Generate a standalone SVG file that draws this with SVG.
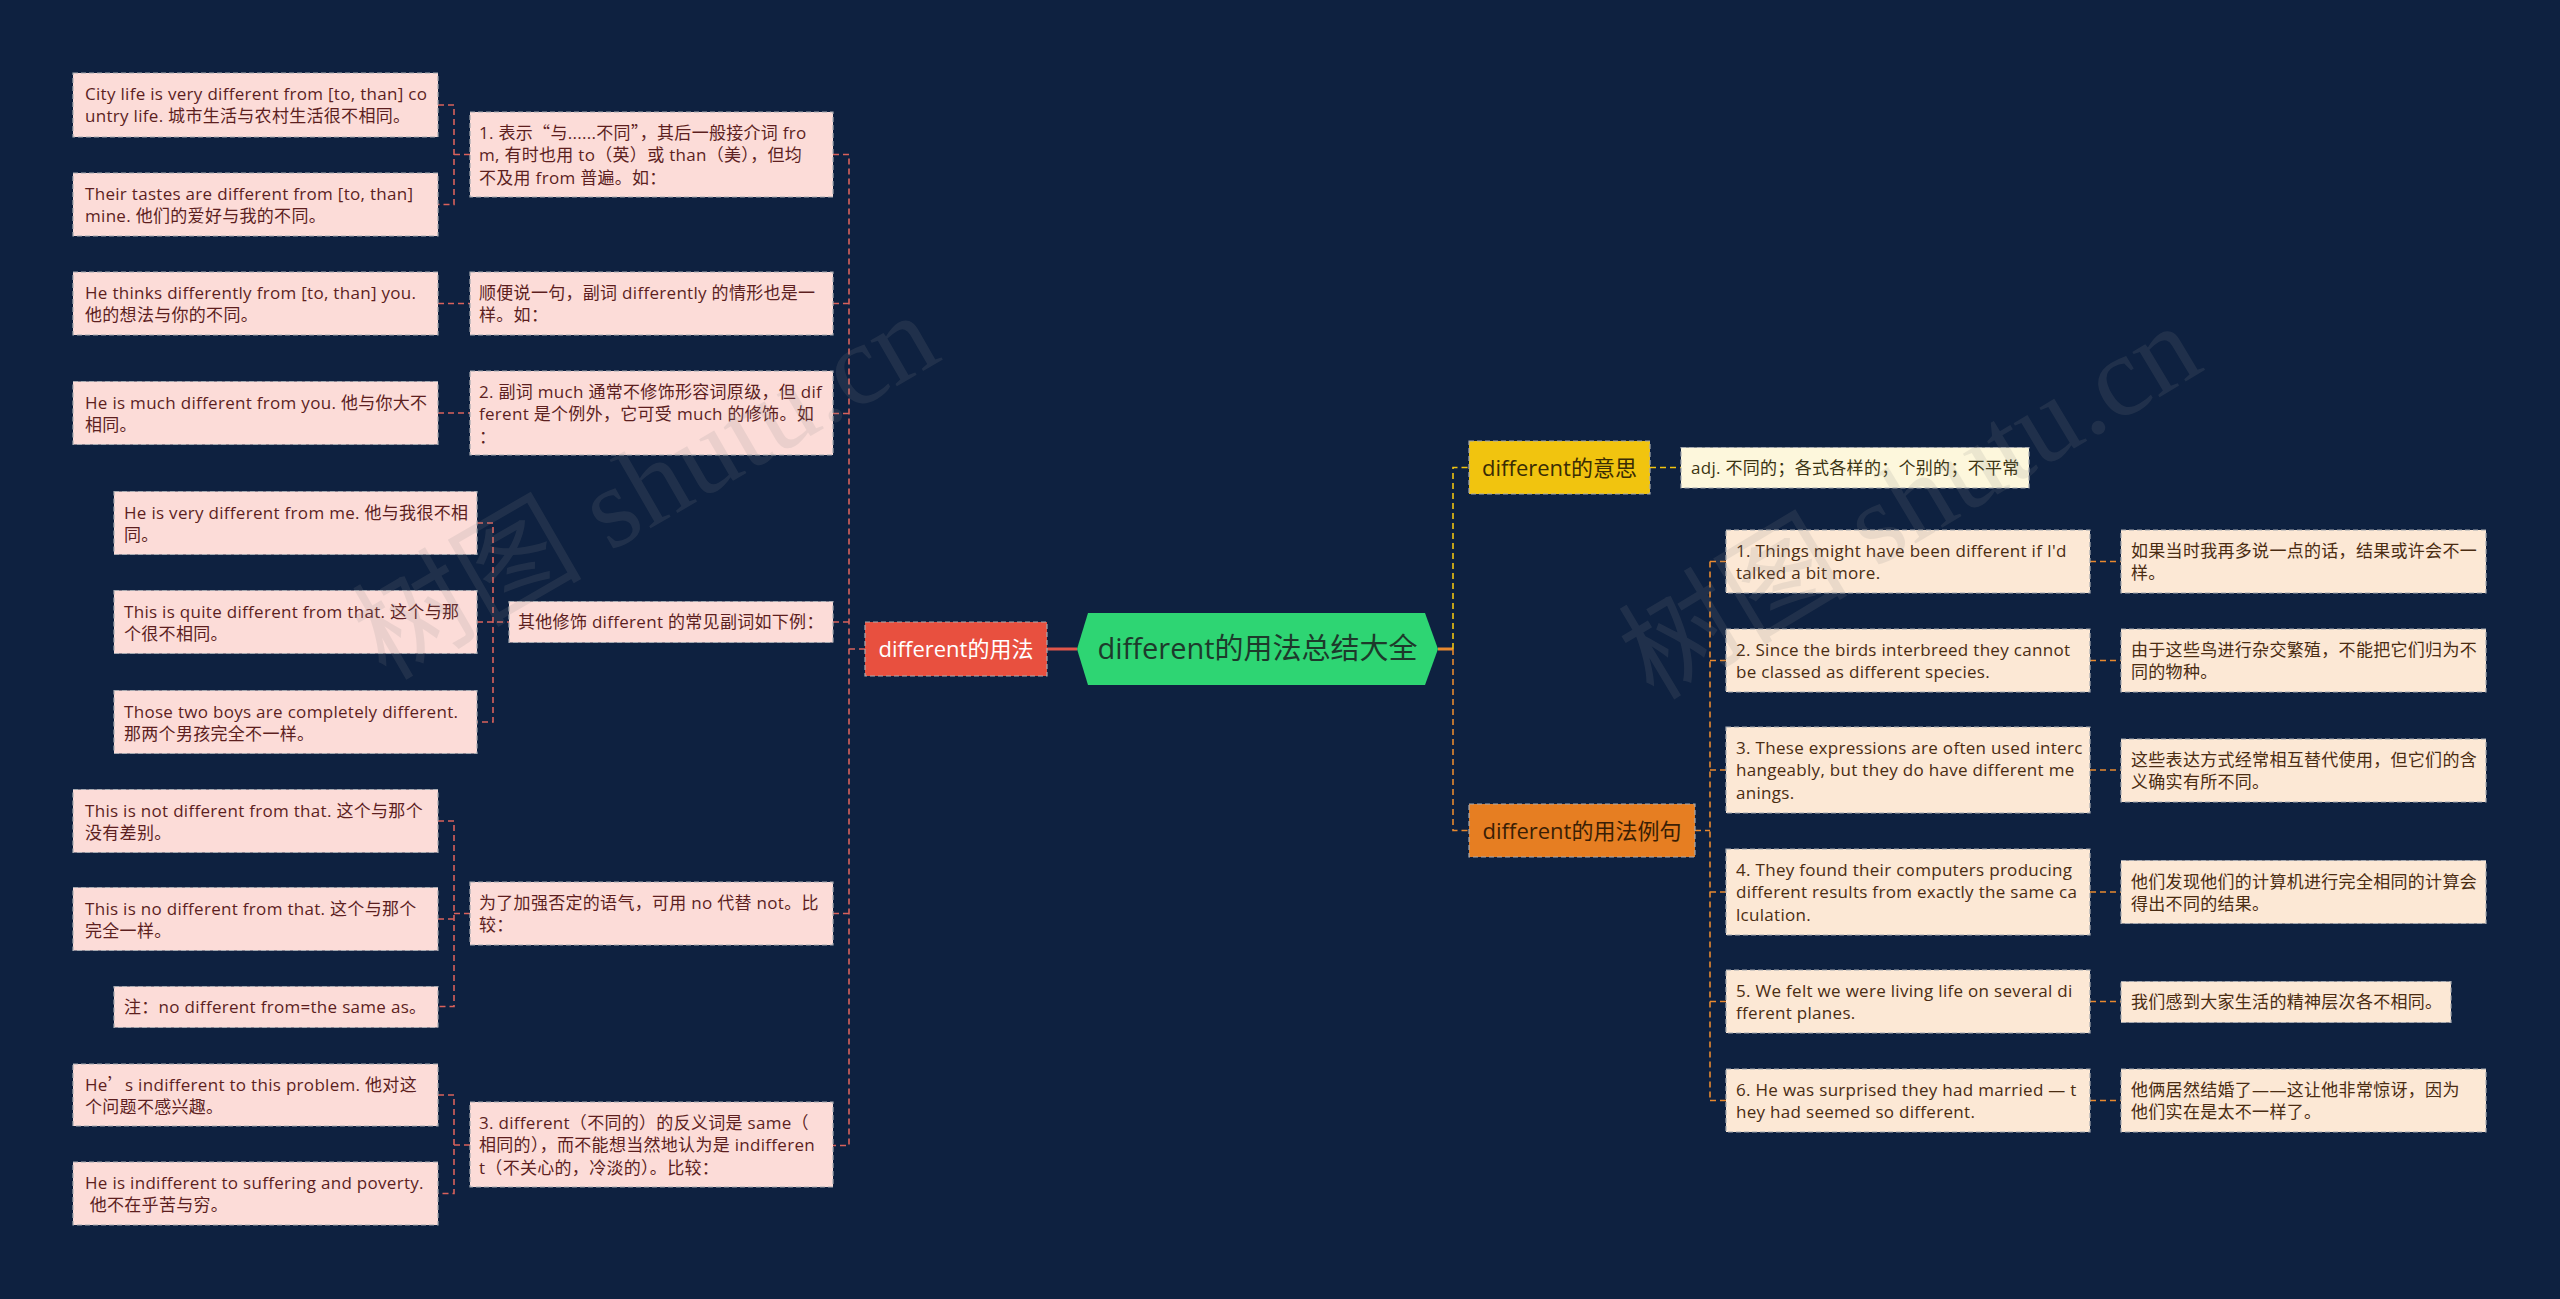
<svg xmlns="http://www.w3.org/2000/svg" width="2560" height="1299" viewBox="0 0 2560 1299">
<style>
text{font-family:"Open Sans","Noto Sans CJK SC",sans-serif;}
.t{font-size:17px;letter-spacing:0.3px;}
.tl{fill:#5c1f1f;}
.tr{fill:#4a2c12;}
.ta{fill:#3b3412;}
.cj{font-family:"Noto Sans CJK SC",sans-serif;}
.bx{stroke:#a6a9b0;stroke-width:1.2;stroke-dasharray:5 3;}
.pk{fill:#fcdcd8;}
.pe{fill:#fce8d5;}
.cr{fill:#fdf7dc;}
.cl{fill:none;stroke:#d9625b;stroke-width:1.6;stroke-dasharray:6 4;}
.cy{fill:none;stroke:#f1c40f;stroke-width:1.6;stroke-dasharray:6 4;}
.co{fill:none;stroke:#e8892f;stroke-width:1.6;stroke-dasharray:6 4;}
.h1{font-size:22px;text-anchor:middle;}
.wm{font-family:"Liberation Serif","Noto Sans CJK SC",serif;font-size:115px;fill:#8a8a8a;opacity:0.15;text-anchor:middle;}
</style>
<rect x="0" y="0" width="2560" height="1299" fill="#0e2140"/>

<g id="connectors">
<path class="cl" d="M438,105 H454 V204.5 H438 M454,154.5 H470"/>
<path class="cl" d="M438,303.5 H470"/>
<path class="cl" d="M438,413 H470"/>
<path class="cl" d="M477,523 H493 V722 H477 M477,622 H509"/>
<path class="cl" d="M438,821 H454 V1006.5 H438 M438,919 H454 M454,913.5 H470"/>
<path class="cl" d="M438,1095 H454 V1193.5 H438 M454,1145 H470"/>
<path class="cl" d="M833,154.5 H849 V1145.5 H833 M833,303.5 H849 M833,413.5 H849 M833,622 H849 M833,913.5 H849 M849,649 H865"/>
<path d="M1047,649 H1077" stroke="#e0564a" stroke-width="3" fill="none"/>
<path d="M1438,649 H1453" stroke="#e8892f" stroke-width="3" fill="none"/>
<path class="cy" d="M1453,649 V467.5 H1469 M1650,467.5 H1681"/>
<path class="co" d="M1453,649 V830.5 H1469 M1695,830.5 H1710 M1710,561.5 V1100.5 M1710,561.5 H1726 M1710,660.5 H1726 M1710,770 H1726 M1710,892 H1726 M1710,1001.5 H1726 M1710,1100.5 H1726"/>
<path class="co" d="M2090,561.5 H2121 M2090,660.5 H2121 M2090,770 H2121 M2090,892 H2121 M2090,1001.5 H2121 M2090,1100.5 H2121"/>
</g>

<g id="root">
<polygon points="1077,649 1088,613 1425,613 1438,649 1425,685 1088,685" fill="#2ed573"/>
<text x="1257.5" y="659" font-size="29" text-anchor="middle" fill="#1d3a2b">different的用法总结大全</text>
</g>

<g id="n-usage">
<rect x="865" y="622" width="182" height="54" fill="#e8503f" class="bx"/>
<text class="h1" x="956" y="657" fill="#ffffff">different的用法</text>
</g>

<g id="n-meaning">
<rect x="1469" y="441" width="181" height="53" fill="#f1c40f" class="bx"/>
<text class="h1" x="1559.5" y="475.5" fill="#3a2c05">different的意思</text>
</g>
<g id="n-adj">
<rect x="1681" y="447.5" width="348" height="40.5" class="bx cr"/>
<text class="t ta" x="1691" y="474">adj. 不同的；各式各样的；个别的；不平常</text>
</g>

<g id="n-examples">
<rect x="1469" y="804" width="226" height="53" fill="#e67e22" class="bx"/>
<text class="h1" x="1582" y="838.5" fill="#3a1e05">different的用法例句</text>
</g>

<!-- left middle column -->
<g id="m1">
<rect x="470" y="112" width="363" height="85" class="bx pk"/>
<text class="t tl" x="479" y="139"><tspan x="479">1. 表示<tspan class="cj">“</tspan>与......不同<tspan class="cj">”</tspan>，其后一般接介词 fro</tspan><tspan x="479" dy="22.4">m, 有时也用 to（英）或 than（美），但均</tspan><tspan x="479" dy="22.4">不及用 from 普遍。如：</tspan></text>
</g>
<g id="m2">
<rect x="470" y="272" width="363" height="63" class="bx pk"/>
<text class="t tl" x="479" y="299"><tspan x="479">顺便说一句，副词 differently 的情形也是一</tspan><tspan x="479" dy="22.4">样。如：</tspan></text>
</g>
<g id="m3">
<rect x="470" y="371" width="363" height="84" class="bx pk"/>
<text class="t tl" x="479" y="398"><tspan x="479">2. 副词 much 通常不修饰形容词原级，但 dif</tspan><tspan x="479" dy="22.4">ferent 是个例外，它可受 much 的修饰。如</tspan><tspan x="479" dy="22.4">：</tspan></text>
</g>
<g id="m4">
<rect x="509" y="601.5" width="324" height="41" class="bx pk"/>
<text class="t tl" x="518" y="628">其他修饰 different 的常见副词如下例：</text>
</g>
<g id="m5">
<rect x="470" y="882" width="363" height="63" class="bx pk"/>
<text class="t tl" x="479" y="909"><tspan x="479">为了加强否定的语气，可用 no 代替 not。比</tspan><tspan x="479" dy="22.4">较：</tspan></text>
</g>
<g id="m6">
<rect x="470" y="1102" width="363" height="85" class="bx pk"/>
<text class="t tl" x="479" y="1129"><tspan x="479">3. different（不同的）的反义词是 same（</tspan><tspan x="479" dy="22.4">相同的），而不能想当然地认为是 indifferen</tspan><tspan x="479" dy="22.4">t（不关心的，冷淡的）。比较：</tspan></text>
</g>

<!-- left leaves -->
<g id="l1">
<rect x="73" y="73" width="365" height="64" class="bx pk"/>
<text class="t tl" x="85" y="100"><tspan x="85">City life is very different from [to, than] co</tspan><tspan x="85" dy="22.4">untry life. 城市生活与农村生活很不相同。</tspan></text>
</g>
<g id="l2">
<rect x="73" y="173" width="365" height="63" class="bx pk"/>
<text class="t tl" x="85" y="200"><tspan x="85">Their tastes are different from [to, than]</tspan><tspan x="85" dy="22.4">mine. 他们的爱好与我的不同。</tspan></text>
</g>
<g id="l3">
<rect x="73" y="272" width="365" height="63" class="bx pk"/>
<text class="t tl" x="85" y="299"><tspan x="85">He thinks differently from [to, than] you.</tspan><tspan x="85" dy="22.4">他的想法与你的不同。</tspan></text>
</g>
<g id="l4">
<rect x="73" y="381.5" width="365" height="63" class="bx pk"/>
<text class="t tl" x="85" y="408.5"><tspan x="85">He is much different from you. 他与你大不</tspan><tspan x="85" dy="22.4">相同。</tspan></text>
</g>
<g id="l5">
<rect x="114" y="491.5" width="363" height="63" class="bx pk"/>
<text class="t tl" x="124" y="518.5"><tspan x="124">He is very different from me. 他与我很不相</tspan><tspan x="124" dy="22.4">同。</tspan></text>
</g>
<g id="l6">
<rect x="114" y="590.5" width="363" height="63" class="bx pk"/>
<text class="t tl" x="124" y="617.5"><tspan x="124">This is quite different from that. 这个与那</tspan><tspan x="124" dy="22.4">个很不相同。</tspan></text>
</g>
<g id="l7">
<rect x="114" y="690.5" width="363" height="63" class="bx pk"/>
<text class="t tl" x="124" y="717.5"><tspan x="124">Those two boys are completely different.</tspan><tspan x="124" dy="22.4">那两个男孩完全不一样。</tspan></text>
</g>
<g id="l8">
<rect x="73" y="789.5" width="365" height="63" class="bx pk"/>
<text class="t tl" x="85" y="816.5"><tspan x="85">This is not different from that. 这个与那个</tspan><tspan x="85" dy="22.4">没有差别。</tspan></text>
</g>
<g id="l9">
<rect x="73" y="887.5" width="365" height="63" class="bx pk"/>
<text class="t tl" x="85" y="914.5"><tspan x="85">This is no different from that. 这个与那个</tspan><tspan x="85" dy="22.4">完全一样。</tspan></text>
</g>
<g id="l10">
<rect x="114" y="986.5" width="324" height="41" class="bx pk"/>
<text class="t tl" x="124" y="1013">注：no different from=the same as。</text>
</g>
<g id="l11">
<rect x="73" y="1064" width="365" height="62" class="bx pk"/>
<text class="t tl" x="85" y="1091"><tspan x="85">He<tspan class="cj">’</tspan>s indifferent to this problem. 他对这</tspan><tspan x="85" dy="22.4">个问题不感兴趣。</tspan></text>
</g>
<g id="l12">
<rect x="73" y="1162" width="365" height="63" class="bx pk"/>
<text class="t tl" x="85" y="1189"><tspan x="85">He is indifferent to suffering and poverty.</tspan><tspan x="85" dy="22.4"> 他不在乎苦与穷。</tspan></text>
</g>

<!-- right examples -->
<g id="e1">
<rect x="1726" y="530" width="364" height="63" class="bx pe"/>
<text class="t tr" x="1736" y="557"><tspan x="1736">1. Things might have been different if I'd</tspan><tspan x="1736" dy="22.4">talked a bit more.</tspan></text>
</g>
<g id="e2">
<rect x="1726" y="629" width="364" height="63" class="bx pe"/>
<text class="t tr" x="1736" y="656"><tspan x="1736">2. Since the birds interbreed they cannot</tspan><tspan x="1736" dy="22.4">be classed as different species.</tspan></text>
</g>
<g id="e3">
<rect x="1726" y="727" width="364" height="86" class="bx pe"/>
<text class="t tr" x="1736" y="754"><tspan x="1736">3. These expressions are often used interc</tspan><tspan x="1736" dy="22.4">hangeably, but they do have different me</tspan><tspan x="1736" dy="22.4">anings.</tspan></text>
</g>
<g id="e4">
<rect x="1726" y="849" width="364" height="86" class="bx pe"/>
<text class="t tr" x="1736" y="876"><tspan x="1736">4. They found their computers producing</tspan><tspan x="1736" dy="22.4">different results from exactly the same ca</tspan><tspan x="1736" dy="22.4">lculation.</tspan></text>
</g>
<g id="e5">
<rect x="1726" y="970" width="364" height="63" class="bx pe"/>
<text class="t tr" x="1736" y="997"><tspan x="1736">5. We felt we were living life on several di</tspan><tspan x="1736" dy="22.4">fferent planes.</tspan></text>
</g>
<g id="e6">
<rect x="1726" y="1069" width="364" height="63" class="bx pe"/>
<text class="t tr" x="1736" y="1096"><tspan x="1736">6. He was surprised they had married — t</tspan><tspan x="1736" dy="22.4">hey had seemed so different.</tspan></text>
</g>

<g id="r1">
<rect x="2121" y="530" width="365" height="63" class="bx pe"/>
<text class="t tr" x="2131" y="557"><tspan x="2131">如果当时我再多说一点的话，结果或许会不一</tspan><tspan x="2131" dy="22.4">样。</tspan></text>
</g>
<g id="r2">
<rect x="2121" y="629" width="365" height="63" class="bx pe"/>
<text class="t tr" x="2131" y="656"><tspan x="2131">由于这些鸟进行杂交繁殖，不能把它们归为不</tspan><tspan x="2131" dy="22.4">同的物种。</tspan></text>
</g>
<g id="r3">
<rect x="2121" y="739" width="365" height="63" class="bx pe"/>
<text class="t tr" x="2131" y="766"><tspan x="2131">这些表达方式经常相互替代使用，但它们的含</tspan><tspan x="2131" dy="22.4">义确实有所不同。</tspan></text>
</g>
<g id="r4">
<rect x="2121" y="860.5" width="365" height="63" class="bx pe"/>
<text class="t tr" x="2131" y="887.5"><tspan x="2131">他们发现他们的计算机进行完全相同的计算会</tspan><tspan x="2131" dy="22.4">得出不同的结果。</tspan></text>
</g>
<g id="r5">
<rect x="2121" y="981.5" width="330" height="41" class="bx pe"/>
<text class="t tr" x="2131" y="1008">我们感到大家生活的精神层次各不相同。</text>
</g>
<g id="r6">
<rect x="2121" y="1069" width="365" height="63" class="bx pe"/>
<text class="t tr" x="2131" y="1096"><tspan x="2131">他俩居然结婚了——这让他非常惊讶，因为</tspan><tspan x="2131" dy="22.4">他们实在是太不一样了。</tspan></text>
</g>

<g id="watermark">
<text class="wm" transform="translate(665,520) rotate(-30)">树图 shutu.cn</text>
<text class="wm" transform="translate(1930,535) rotate(-31)">树图 shutu.cn</text>
</g>
</svg>
